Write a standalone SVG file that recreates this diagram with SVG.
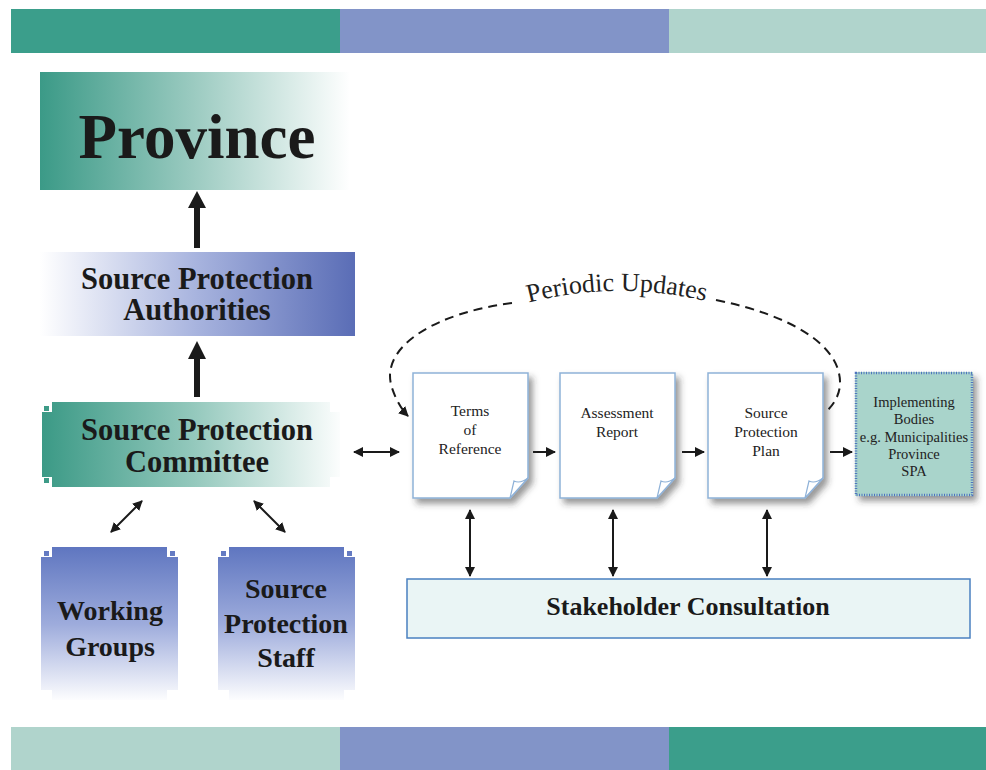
<svg xmlns="http://www.w3.org/2000/svg" width="986" height="770" viewBox="0 0 986 770">
  <defs>
    <style>
      .bold { font-family: "Liberation Serif", "Times New Roman", serif; font-weight: bold; fill: #1a1a1a; text-anchor: middle; }
      .reg { font-family: "Liberation Serif", "Times New Roman", serif; fill: #222; text-anchor: middle; }
      .doc { fill: #ffffff; stroke: #8fb2d8; stroke-width: 1.5; }
      .fold { fill: #ffffff; stroke: #8fb2d8; stroke-width: 1.2; }
      .thin { stroke: #1a1a1a; stroke-width: 2; fill: none; }
      .block { fill: #1a1a1a; }
      .dash { stroke: #1a1a1a; stroke-width: 2; fill: none; stroke-dasharray: 9 6; }
    </style>
    <linearGradient id="gProv" gradientUnits="userSpaceOnUse" x1="40" y1="0" x2="350" y2="0">
      <stop offset="0" stop-color="#3b9a87"/>
      <stop offset="0.5" stop-color="#9ccbc1"/>
      <stop offset="1" stop-color="#ffffff"/>
    </linearGradient>
    <linearGradient id="gSPA" gradientUnits="userSpaceOnUse" x1="40" y1="0" x2="355" y2="0">
      <stop offset="0" stop-color="#ffffff"/>
      <stop offset="0.5" stop-color="#a7b3de"/>
      <stop offset="1" stop-color="#5a6db6"/>
    </linearGradient>
    <linearGradient id="gSPC" gradientUnits="userSpaceOnUse" x1="40" y1="0" x2="345" y2="0">
      <stop offset="0" stop-color="#3a9985"/>
      <stop offset="0.5" stop-color="#93c8bc"/>
      <stop offset="1" stop-color="#ffffff"/>
    </linearGradient>
    <linearGradient id="gWG" gradientUnits="userSpaceOnUse" x1="0" y1="547" x2="0" y2="702">
      <stop offset="0" stop-color="#5f76c0"/>
      <stop offset="0.5" stop-color="#9eacdc"/>
      <stop offset="1" stop-color="#ffffff"/>
    </linearGradient>
    <filter id="shadow" x="-20%" y="-20%" width="150%" height="150%">
      <feDropShadow dx="4" dy="5" stdDeviation="3" flood-color="#333" flood-opacity="0.5"/>
    </filter>
    <marker id="ah" viewBox="0 0 10 10" refX="9" refY="5" markerWidth="5" markerHeight="5" orient="auto-start-reverse" markerUnits="strokeWidth">
      <path d="M0,0 L10,5 L0,10 Z" fill="#1a1a1a"/>
    </marker>
  </defs>

  <!-- top and bottom bars -->
  <g id="top-bar">
    <rect x="11" y="9" width="330" height="44" fill="#3b9e8b"/>
    <rect x="340" y="9" width="330" height="44" fill="#8294c8"/>
    <rect x="669" y="9" width="317" height="44" fill="#b0d4cc"/>
  </g>
  <g id="bottom-bar">
    <rect x="11" y="727" width="330" height="43" fill="#b0d4cc"/>
    <rect x="340" y="727" width="330" height="43" fill="#8294c8"/>
    <rect x="669" y="727" width="317" height="43" fill="#3b9e8b"/>
  </g>

  <!-- connectors -->
  <g id="connectors">
    <path class="block" d="M194 248 V208 H188 L197 191 L206 208 H200 V248 Z"/>
    <path class="block" d="M194 397 V359 H188 L197 341 L206 359 H200 V397 Z"/>
    <line class="thin" x1="354" y1="452" x2="399" y2="452" marker-start="url(#ah)" marker-end="url(#ah)"/>
    <line class="thin" x1="111" y1="532" x2="142" y2="501" marker-start="url(#ah)" marker-end="url(#ah)"/>
    <line class="thin" x1="254" y1="501" x2="285" y2="532" marker-start="url(#ah)" marker-end="url(#ah)"/>
    <line class="thin" x1="533" y1="452" x2="555" y2="452" marker-end="url(#ah)"/>
    <line class="thin" x1="682" y1="452" x2="704" y2="452" marker-end="url(#ah)"/>
    <line class="thin" x1="830" y1="452" x2="852" y2="452" marker-end="url(#ah)"/>
    <line class="thin" x1="470" y1="510" x2="470" y2="576" marker-start="url(#ah)" marker-end="url(#ah)"/>
    <line class="thin" x1="613" y1="510" x2="613" y2="576" marker-start="url(#ah)" marker-end="url(#ah)"/>
    <line class="thin" x1="767" y1="510" x2="767" y2="576" marker-start="url(#ah)" marker-end="url(#ah)"/>
    <path class="dash" d="M512 303 C 440 312, 378 345, 392 388 C 396 400, 402 410, 408 416" marker-end="url(#ah)"/>
    <path class="dash" d="M716 300 C 790 315, 842 345, 840 385 C 839 396, 834 404, 826 412"/>
    <path id="puPath" d="M516 306 Q 615 277 718 304" fill="none"/>
    <text class="reg" style="font-size:26px"><textPath href="#puPath" startOffset="50%">Periodic Updates</textPath></text>
  </g>

  <!-- Province -->
  <g id="province">
    <rect x="40" y="72" width="310" height="118" fill="url(#gProv)"/>
    <text class="bold" x="197" y="158" style="font-size:63px">Province</text>
  </g>

  <!-- Source Protection Authorities -->
  <g id="spa">
    <rect x="40" y="252" width="315" height="84" fill="url(#gSPA)"/>
    <text class="bold" x="197" y="289" style="font-size:30.5px">Source Protection</text>
    <text class="bold" x="197" y="320" style="font-size:30.5px">Authorities</text>
  </g>

  <!-- Source Protection Committee -->
  <g id="spc">
    <path d="M52 402 H330 V412 H340 V477 H330 V487 H52 V477 H42 V412 H52 Z" fill="url(#gSPC)"/>
    <rect x="44" y="406" width="5" height="5" fill="url(#gSPC)"/>
    <rect x="44" y="478" width="5" height="5" fill="url(#gSPC)"/>
    <text class="bold" x="197" y="440" style="font-size:30.5px">Source Protection</text>
    <text class="bold" x="197" y="472" style="font-size:30.5px">Committee</text>
  </g>

  <!-- Working Groups -->
  <g id="working-groups">
    <path d="M52 547 H167 V557 H178 V690 H167 V700 H52 V690 H41 V557 H52 Z" fill="url(#gWG)"/>
    <rect x="44" y="551" width="5" height="5" fill="url(#gWG)"/>
    <rect x="170" y="551" width="5" height="5" fill="url(#gWG)"/>
    <text class="bold" x="110" y="620" style="font-size:28px">Working</text>
    <text class="bold" x="110" y="656" style="font-size:28px">Groups</text>
  </g>

  <!-- Source Protection Staff -->
  <g id="sp-staff">
    <path d="M229 547 H344 V557 H355 V690 H344 V700 H229 V690 H218 V557 H229 Z" fill="url(#gWG)"/>
    <rect x="221" y="551" width="5" height="5" fill="url(#gWG)"/>
    <rect x="347" y="551" width="5" height="5" fill="url(#gWG)"/>
    <text class="bold" x="286" y="598" style="font-size:28px">Source</text>
    <text class="bold" x="286" y="633" style="font-size:28px">Protection</text>
    <text class="bold" x="286" y="667" style="font-size:28px">Staff</text>
  </g>

  <!-- Terms of Reference -->
  <g id="terms">
    <path class="doc" filter="url(#shadow)" d="M413 373 H528 V478 L510 498 H413 Z"/>
    <path class="fold" d="M510 498 L514 481 Q 520 484 528 478 Z"/>
    <text class="reg" x="470" y="416" style="font-size:15.5px">Terms</text>
    <text class="reg" x="470" y="435" style="font-size:15.5px">of</text>
    <text class="reg" x="470" y="454" style="font-size:15.5px">Reference</text>
  </g>

  <!-- Assessment Report -->
  <g id="assessment">
    <path class="doc" filter="url(#shadow)" d="M560 373 H675 V478 L657 498 H560 Z"/>
    <path class="fold" d="M657 498 L661 481 Q 667 484 675 478 Z"/>
    <text class="reg" x="617" y="418" style="font-size:15.5px">Assessment</text>
    <text class="reg" x="617" y="437" style="font-size:15.5px">Report</text>
  </g>

  <!-- Source Protection Plan -->
  <g id="sp-plan">
    <path class="doc" filter="url(#shadow)" d="M708 373 H823 V478 L805 498 H708 Z"/>
    <path class="fold" d="M805 498 L809 481 Q 815 484 823 478 Z"/>
    <text class="reg" x="766" y="418" style="font-size:15.5px">Source</text>
    <text class="reg" x="766" y="437" style="font-size:15.5px">Protection</text>
    <text class="reg" x="766" y="456" style="font-size:15.5px">Plan</text>
  </g>

  <!-- Implementing Bodies -->
  <g id="implementing">
    <rect x="855" y="372" width="118" height="124" fill="#a9d4cb" filter="url(#shadow)"/>
    <rect x="856" y="373" width="116" height="122" fill="none" stroke="#4f73bf" stroke-width="2.5" stroke-dasharray="1 1.5"/>
    <text class="reg" x="914" y="407" style="font-size:14.5px">Implementing</text>
    <text class="reg" x="914" y="424" style="font-size:14.5px">Bodies</text>
    <text class="reg" x="914" y="442" style="font-size:14.5px">e.g. Municipalities</text>
    <text class="reg" x="914" y="459" style="font-size:14.5px">Province</text>
    <text class="reg" x="914" y="476" style="font-size:14.5px">SPA</text>
  </g>

  <!-- Stakeholder Consultation -->
  <g id="stakeholder">
    <rect x="407" y="579" width="563" height="59" fill="#eaf5f5" stroke="#4a80c0" stroke-width="1.5"/>
    <text class="bold" x="688" y="615" style="font-size:26px">Stakeholder Consultation</text>
  </g>
</svg>
